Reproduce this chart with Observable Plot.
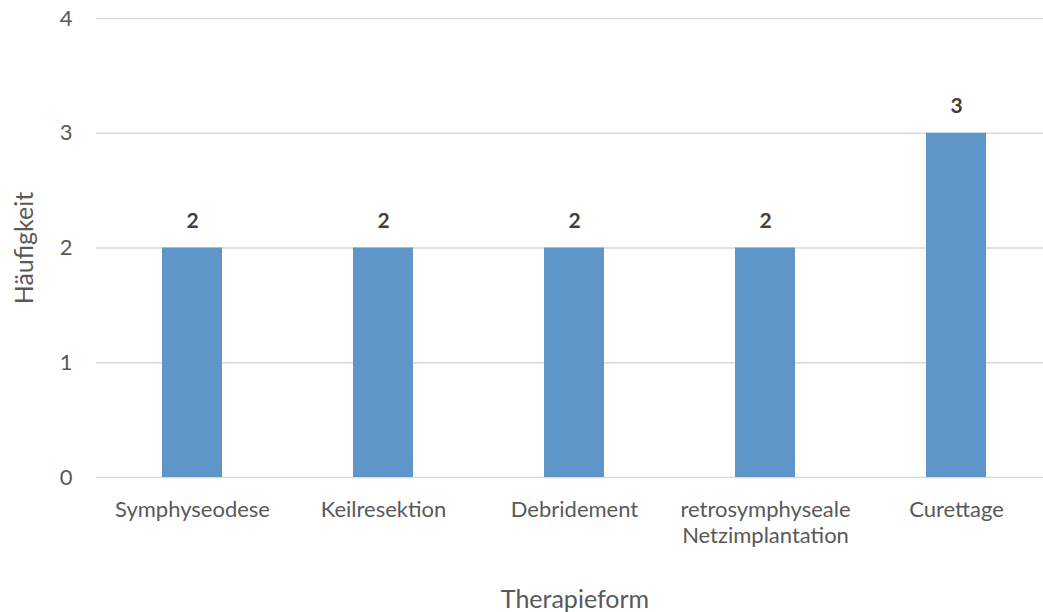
<!DOCTYPE html>
<html>
<head>
<meta charset="utf-8">
<script src="https://cdn.jsdelivr.net/npm/d3@7"></script>
<script src="https://cdn.jsdelivr.net/npm/@observablehq/plot@0.6"></script>
<style>
  html, body { margin: 0; padding: 0; background: #fff; overflow: hidden; }
  #chart svg { display: block; }
</style>
</head>
<body>
<div id="chart"></div>
<script>
// Therapy forms and their counts
const categories = ["Symphyseodese", "Keilresektion", "Debridement", "retrosymphyseale\nNetzimplantation", "Curettage"];
const counts = [2, 2, 2, 2, 3];
const yTicks = [0, 1, 2, 3, 4];
const yTitle = "Häufigkeit";
const xTitle = "Therapieform";

const rows = categories.map((c, i) => ({category: c, count: counts[i]}));

const W = 1043, H = 612;
const font = "Lato, 'Open Sans', sans-serif";
const textColor = "#595959";

const chart = Plot.plot({
  width: W,
  height: H,
  marginLeft: 96,
  marginRight: 0,
  marginTop: 18,
  marginBottom: 135,
  style: {fontFamily: font, fontSize: "22px", color: textColor, background: "#fff"},
  // the last band runs a little past the right edge of the canvas
  x: {domain: categories, range: [95, 1053], paddingInner: 0.687, paddingOuter: 0.3435, align: 0.5},
  y: {domain: [0, 4], ticks: yTicks},
  marks: [
    Plot.gridY(yTicks, {stroke: "#d9d9d9", strokeOpacity: 1, strokeWidth: 1.3}),
    Plot.barY(rows, {x: "category", y: "count", fill: "#5f96c9"}),
    Plot.text(rows, {x: "category", y: "count", text: d => String(d.count), dy: -27,
      fontWeight: "bold", fill: "#404040", fontSize: 21}),
    Plot.axisY({ticks: yTicks, tickFormat: "d", tickSize: 0, tickPadding: 24, label: null, fill: textColor, fontSize: 22}),
    Plot.axisX({tickSize: 0, tickPadding: 22, label: null, fill: textColor, fontSize: 22, lineHeight: 1.15}),
    Plot.text([yTitle], {frameAnchor: "left", textAnchor: "middle", lineAnchor: "middle",
      dx: -72, rotate: -90, fill: textColor, fontSize: 25}),
    Plot.text([xTitle], {frameAnchor: "bottom", textAnchor: "middle", lineAnchor: "middle",
      dx: 5, dy: 122, fill: textColor, fontSize: 25})
  ]
});

document.getElementById("chart").append(chart);
</script>
</body>
</html>
